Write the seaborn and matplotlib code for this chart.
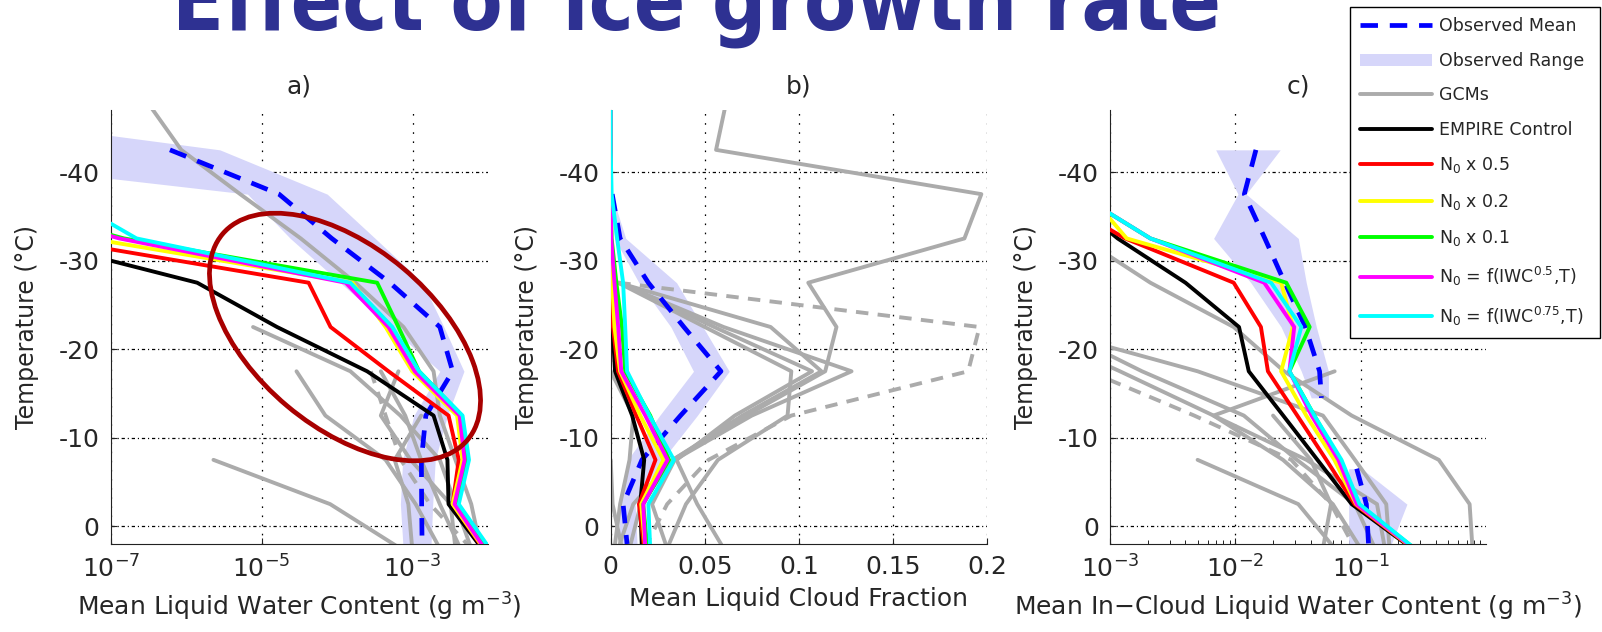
import numpy as np
import matplotlib
matplotlib.use("Agg")
import matplotlib.pyplot as plt
import seaborn as sns
from matplotlib import ticker, transforms
from matplotlib.lines import Line2D
from matplotlib.patches import Patch, Ellipse

sns.set_theme(style="white")
plt.rcParams.update({
    "font.family": ["DejaVu Sans"],
    "axes.unicode_minus": False,
    "mathtext.fontset": "dejavusans",
    "axes.edgecolor": "black",
    "axes.linewidth": 0.8,
})

# ---------------- colours ----------------
OBS_BLUE = "#0000FF"
OBS_FILL = "#D6D6FA"
GCM_GRAY = "#ABABAB"
MODEL_COLORS = ["#000000", "#FF0000", "#FFFF00", "#00FF00", "#FF00FF", "#00FFFF"]
MODEL_NAMES = ["EMPIRE Control", r"N$_0$ x 0.5", r"N$_0$ x 0.2", r"N$_0$ x 0.1",
               r"N$_0$ = f(IWC$^{0.5}$,T)", r"N$_0$ = f(IWC$^{0.75}$,T)"]

# ---------------- panel a: mean liquid water content (g m-3) ----------------
temp_a_model = [-37.5, -32.5, -27.5, -22.5, -17.5, -12.5, -7.5, -2.5, 2.5]
lwc_control = [1e-10, 7e-9, 1.4e-6, 1.6e-5, 2.5e-4, 1.9e-3, 2.9e-3, 3.0e-3, 8.3e-3]
lwc_n0_05 = [1e-10, 1.4e-8, 4.2e-5, 8.2e-5, 4.8e-4, 3.0e-3, 4.1e-3, 3.4e-3, 8.6e-3]
lwc_n0_02 = [1e-9, 5.3e-8, 1.6e-4, 4.4e-4, 9.9e-4, 3.9e-3, 4.6e-3, 3.4e-3, 8.8e-3]
lwc_n0_01 = [1e-9, 1.5e-7, 3.4e-4, 6.5e-4, 1.22e-3, 4.5e-3, 5.4e-3, 3.9e-3, 9.8e-3]
lwc_iwc05 = [1e-9, 1.3e-7, 1.3e-4, 4.8e-4, 1.07e-3, 4.2e-3, 4.9e-3, 3.6e-3, 9.0e-3]
lwc_iwc075 = [2.1e-8, 2.2e-7, 1.5e-4, 5.4e-4, 1.22e-3, 4.6e-3, 5.6e-3, 4.1e-3, 1.05e-2]

temp_a_obs = [-47.5, -42.5, -37.5, -32.5, -27.5, -22.5, -17.5, -12.5, -7.5, -2.5, 2.5]
lwc_obs_lo = [1e-12, 5e-11, 6.5e-6, 2.4e-5, 1.1e-4, 5.1e-4, 2.3e-3, 1.04e-3, 7.4e-4, 6.9e-4, 7.5e-4]
lwc_obs_hi = [1e-10, 2.8e-6, 7.4e-5, 3.2e-4, 1.36e-3, 2.6e-3, 4.8e-3, 2.9e-3, 2.0e-3, 1.85e-3, 1.75e-3]
temp_a_obs_mean = [-42.5, -37.5, -32.5, -27.5, -22.5, -17.5, -12.5, -7.5, -2.5, 2.5]
lwc_obs_mean = [6.1e-7, 1.7e-5, 8.5e-5, 5.0e-4, 2.3e-3, 3.4e-3, 1.5e-3, 1.31e-3, 1.32e-3, 1.34e-3]

gcm_a_temp = [
    [-47.5, -42.5, -37.5, -32.5, -27.5, -22.5, -17.5, -12.5, -7.5, -2.5, 2.5],
    [-22.5, -17.5, -12.5, -7.5, -2.5, 2.5],
    [-17.5, -12.5, -7.5, -2.5, 2.5],
    [-7.5, -2.5, 2.5],
    [-17.5, -12.5, -7.5, -2.5, 2.5],
    [-17.5, -12.5, -7.5, -2.5, 2.5],
    [-17.5, -12.5, -7.5, -2.5, 2.5],
    [-12.5, -7.5, -2.5, 2.5],
]
gcm_a_lwc = [
    [3.3e-7, 8.6e-7, 5.2e-6, 3.3e-5, 1.75e-4, 7.6e-4, 1.9e-3, 2.3e-3, 3.7e-3, 6e-3, 8e-3],
    [7.7e-6, 1.5e-4, 6.9e-4, 2.3e-3, 3.7e-3, 6e-3],
    [2.9e-5, 7e-5, 4.4e-4, 1.1e-3, 2.3e-3],
    [2.3e-6, 8.1e-5, 6.9e-4],
    [3.8e-4, 8.0e-4, 1.3e-3, 2.3e-3, 4.3e-3],
    [6.5e-4, 3.8e-4, 9.4e-4, 3.2e-3, 3.7e-3],
    [2.8e-4, 4.4e-4, 7e-4, 1.7e-3, 6e-3],
    [1.3e-3, 5.8e-4, 8.8e-4, 9.9e-4],
]
gcm_a_dashed = [False, False, False, False, False, False, True, False]

# ---------------- panel b: mean liquid cloud fraction ----------------
temp_b_model = [-47.5, -42.5, -37.5, -32.5, -27.5, -22.5, -17.5, -12.5, -7.5, -2.5, 2.5]
lcf_control = [0, 0, 0, 0, 0.0005, 0.001, 0.0023, 0.0114, 0.0178, 0.0157, 0.0166]
lcf_n0_05 = [0, 0, 0, 0, 0.0003, 0.0012, 0.0039, 0.0136, 0.0238, 0.015, 0.0178]
lcf_n0_02 = [0, 0, 0, 0.0002, 0.0008, 0.002, 0.005, 0.0157, 0.028, 0.0162, 0.0184]
lcf_n0_01 = [0, 0, 0, 0.0005, 0.003, 0.006, 0.0077, 0.021, 0.031, 0.0173, 0.0195]
lcf_iwc05 = [0, 0, 0, 0.0003, 0.002, 0.004, 0.0056, 0.0184, 0.0302, 0.0173, 0.0184]
lcf_iwc075 = [0, 0, 0.0005, 0.0034, 0.0066, 0.0077, 0.0087, 0.0206, 0.0336, 0.020, 0.021]

temp_b_obs = [-37.5, -32.5, -27.5, -22.5, -17.5, -12.5, -7.5, -2.5, 2.0]
lcf_obs_mean = [0.0008, 0.005, 0.020, 0.0389, 0.0586, 0.0371, 0.0166, 0.0066, 0.0087]
lcf_obs_lo = [0.0, 0.002, 0.015, 0.032, 0.044, 0.026, 0.009, 0.004, 0.005]
lcf_obs_hi = [0.0005, 0.008, 0.035, 0.049, 0.063, 0.046, 0.0275, 0.013, 0.014]

gcm_b_temp = [
    [-47.5, -42.5, -37.5, -32.5, -27.5, -22.5, -17.5, -12.5, -7.5, -2.5, 2.5],
    [-27.5, -22.5, -17.5, -12.5, -7.5, -2.5, 2.5],
    [-27.5, -22.5, -17.5, -12.5, -7.5, -2.5, 2.5],
    [-27.5, -22.5, -17.5, -12.5, -7.5, -2.5, 2.5],
    [-27.5, -22.5, -17.5, -12.5, -7.5, -2.5, 2.5],
    [-27.5, -22.5, -17.5, -12.5, -7.5, -2.5, 2.5],
    [-17.5, -12.5, -7.5, -2.5, 2.5],
    [-7.5, -2.5, 2.5],
]
gcm_b_lcf = [
    [0.061, 0.056, 0.197, 0.188, 0.105, 0.120, 0.114, 0.072, 0.033, 0.016, 0.010],
    [0.004, 0.196, 0.190, 0.096, 0.052, 0.030, 0.018],
    [0.004, 0.085, 0.112, 0.070, 0.033, 0.012, 0.004],
    [0.005, 0.055, 0.107, 0.066, 0.035, 0.046, 0.060],
    [0.004, 0.060, 0.128, 0.075, 0.034, 0.022, 0.030],
    [0.004, 0.050, 0.096, 0.094, 0.057, 0.040, 0.030],
    [0.0, 0.012, 0.010, 0.005, 0.002],
    [0.0, 0.001, 0.006],
]
gcm_b_dashed = [False, True, False, False, False, False, False, False]

# ---------------- panel c: mean in-cloud liquid water content (g m-3) ----------------
temp_c_model = [-37.5, -32.5, -27.5, -22.5, -17.5, -12.5, -7.5, -2.5, 2.5]
icl_control = [4.3e-4, 0.00115, 0.0040, 0.0107, 0.0128, 0.0241, 0.0452, 0.0848, 0.257]
icl_n0_05 = [3.3e-4, 0.00132, 0.0097, 0.0160, 0.0182, 0.0312, 0.0532, 0.0895, 0.26]
icl_n0_02 = [6.8e-4, 0.00136, 0.0232, 0.0288, 0.0232, 0.0368, 0.0617, 0.092, 0.262]
icl_n0_01 = [5.6e-4, 0.0021, 0.0255, 0.0392, 0.0270, 0.0427, 0.068, 0.095, 0.268]
icl_iwc05 = [5.6e-4, 0.0021, 0.0170, 0.0295, 0.0270, 0.0406, 0.0663, 0.093, 0.265]
icl_iwc075 = [5.6e-4, 0.0021, 0.0193, 0.0336, 0.0270, 0.0427, 0.0703, 0.098, 0.27]

temp_c_obs_upper = [-42.5, -37.5, -32.5, -27.5, -22.5, -17.5, -14.5]
icl_obs_mean_upper = [0.0146, 0.0118, 0.0172, 0.0248, 0.0362, 0.047, 0.0486]
icl_obs_lo_upper = [0.00697, 0.0105, 0.00671, 0.0133, 0.0232, 0.0336, 0.0403]
icl_obs_hi_upper = [0.0228, 0.0122, 0.0318, 0.0368, 0.0443, 0.0553, 0.0553]
temp_c_obs_lower = [-6.5, -2.5, 2.5]
icl_obs_mean_lower = [0.093, 0.111, 0.116]
icl_obs_lo_lower = [0.0802, 0.0802, 0.0802]
icl_obs_hi_lower = [0.102, 0.234, 0.17]

gcm_c_temp = [
    [-32.5, -27.5, -22.5, -17.5, -12.5, -7.5, -2.5, 2.5],
    [-22.5, -17.5, -12.5, -7.5, -2.5, 2.5],
    [-22.5, -17.5, -12.5, -7.5, -2.5, 2.5],
    [-17.5, -12.5, -7.5, -2.5, 2.5],
    [-22.5, -17.5, -12.5, -7.5, -2.5, 2.5],
    [-17.5, -12.5, -7.5, -2.5, 2.5],
    [-7.5, -2.5, 2.5],
    [-12.5, -7.5, -2.5, 2.5],
]
gcm_c_icl = [
    [6e-4, 0.0021, 0.0097, 0.0245, 0.0848, 0.42, 0.74, 0.78],
    [2.6e-4, 0.005, 0.05, 0.09, 0.16, 0.17],
    [3.5e-4, 0.0018, 0.0117, 0.031, 0.09, 0.13],
    [6.8e-4, 0.0047, 0.028, 0.058, 0.09],
    [2e-4, 0.0012, 0.0067, 0.037, 0.135, 0.156],
    [0.062, 0.0067, 0.024, 0.06, 0.1],
    [0.005, 0.0318, 0.062],
    [0.02, 0.04, 0.058, 0.05],
]
gcm_c_dashed = [False, False, False, True, False, False, False, False]

# ---------------- figure ----------------
W, H = 1602, 632
fig = plt.figure(figsize=(W / 100, H / 100), dpi=100)
fig.patch.set_facecolor("white")


def box(left, top, right, bottom):
    return [left / W, 1 - bottom / H, (right - left) / W, (bottom - top) / H]


ax_a = fig.add_axes(box(110.7, 110, 488, 544))
ax_b = fig.add_axes(box(610.7, 110, 987, 544))
ax_c = fig.add_axes(box(1110, 110, 1486, 544))
ax_a.set_xscale("log")
ax_c.set_xscale("log")

OBS_DASH = (0, (3.7, 2.5))
GCM_DASH = (0, (3.2, 2.4))
LW = 2.8


def draw_line(ax, x, t, color, lw=LW, ls="-", z=2):
    sns.lineplot(x=x, y=t, sort=False, estimator=None, color=color, lw=lw,
                 linestyle=ls, ax=ax, legend=False, zorder=z)


def draw_panel(ax, fills, means, gcm_t, gcm_x, gcm_dash, model_t, models):
    for t, lo, hi in fills:
        ax.fill_betweenx(t, lo, hi, color=OBS_FILL, lw=0, zorder=1)
    for t, x, d in zip(gcm_t, gcm_x, gcm_dash):
        draw_line(ax, x, t, GCM_GRAY, ls=GCM_DASH if d else "-", z=2)
    for t, x in means:
        draw_line(ax, x, t, OBS_BLUE, lw=3.4, ls=OBS_DASH, z=3)
    for x, c in zip(models, MODEL_COLORS):
        draw_line(ax, x, model_t, c, z=4)


draw_panel(ax_a, [(temp_a_obs, lwc_obs_lo, lwc_obs_hi)],
           [(temp_a_obs_mean, lwc_obs_mean)],
           gcm_a_temp, gcm_a_lwc, gcm_a_dashed, temp_a_model,
           [lwc_control, lwc_n0_05, lwc_n0_02, lwc_n0_01, lwc_iwc05, lwc_iwc075])
draw_panel(ax_b, [(temp_b_obs, lcf_obs_lo, lcf_obs_hi)],
           [(temp_b_obs, lcf_obs_mean)],
           gcm_b_temp, gcm_b_lcf, gcm_b_dashed, temp_b_model,
           [lcf_control, lcf_n0_05, lcf_n0_02, lcf_n0_01, lcf_iwc05, lcf_iwc075])
draw_panel(ax_c, [(temp_c_obs_upper, icl_obs_lo_upper, icl_obs_hi_upper),
                  (temp_c_obs_lower, icl_obs_lo_lower, icl_obs_hi_lower)],
           [(temp_c_obs_upper, icl_obs_mean_upper),
            (temp_c_obs_lower, icl_obs_mean_lower)],
           gcm_c_temp, gcm_c_icl, gcm_c_dashed, temp_c_model,
           [icl_control, icl_n0_05, icl_n0_02, icl_n0_01, icl_iwc05, icl_iwc075])

# ---------------- axes styling ----------------
ax_a.set_xlim(1e-7, 1e-2)
ax_b.set_xlim(0, 0.2)
ax_c.set_xlim(1e-3, 1)

ax_a.xaxis.set_major_locator(ticker.FixedLocator([1e-7, 1e-5, 1e-3]))
ax_a.xaxis.set_major_formatter(ticker.LogFormatterSciNotation())
ax_a.xaxis.set_minor_locator(ticker.NullLocator())
ax_b.xaxis.set_major_locator(ticker.FixedLocator([0, 0.05, 0.1, 0.15, 0.2]))
ax_b.xaxis.set_major_formatter(ticker.FuncFormatter(lambda v, p: f"{v:g}"))
ax_c.xaxis.set_major_locator(ticker.FixedLocator([1e-3, 1e-2, 1e-1]))
ax_c.xaxis.set_major_formatter(ticker.LogFormatterSciNotation())
ax_c.xaxis.set_minor_locator(ticker.LogLocator(base=10, subs=np.arange(2, 10)))
ax_c.xaxis.set_minor_formatter(ticker.NullFormatter())

xlabels = ["Mean Liquid Water Content (g m$^{-3}$)", "Mean Liquid Cloud Fraction",
           "Mean In\u2212Cloud Liquid Water Content (g m$^{-3}$)"]
for ax, title, xl in zip([ax_a, ax_b, ax_c], ["a)", "b)", "c)"], xlabels):
    ax.set_ylim(2, -47)
    ax.yaxis.set_major_locator(ticker.FixedLocator([-40, -30, -20, -10, 0]))
    ax.yaxis.set_minor_locator(ticker.NullLocator())
    ax.set_axisbelow(True)
    ax.xaxis.grid(True, which="major", color="black", lw=0.9, linestyle=(0, (1.3, 6.0)))
    ax.yaxis.grid(True, which="major", color="black", lw=0.9,
                  linestyle=(0, (2.6, 2.3, 0.9, 2.3)))
    ax.yaxis.grid(False, which="minor")
    ax.xaxis.grid(False, which="minor")
    sns.despine(ax=ax)
    ax.spines["left"].set_color("#222222")
    ax.spines["bottom"].set_color("#222222")
    ax.tick_params(which="major", direction="in", length=4, width=0.8, labelsize=18,
                   pad=8, left=True, bottom=True, top=False, right=False, color="#222222")
    ax.tick_params(which="minor", direction="in", length=3, width=0.7,
                   bottom=True, top=False, color="#222222")
    ax.set_title(title, fontsize=18, pad=12)
    ax.set_xlabel(xl, fontsize=18, labelpad=6)
    ax.set_ylabel("Temperature (\u00b0C)", fontsize=17, labelpad=14)
    ax.set_facecolor("white")

# ---------------- legend ----------------
handles = [
    Line2D([], [], color=OBS_BLUE, lw=3.4, linestyle=OBS_DASH),
    Patch(facecolor=OBS_FILL, edgecolor="none"),
    Line2D([], [], color=GCM_GRAY, lw=LW),
] + [Line2D([], [], color=c, lw=LW) for c in MODEL_COLORS]
labels = ["Observed Mean", "Observed Range", "GCMs"] + MODEL_NAMES
leg = fig.legend(handles, labels, loc="upper left",
                 bbox_to_anchor=(1350 / W, 1 - 7 / H, 250 / W, 0),
                 bbox_transform=fig.transFigure, mode="expand",
                 borderaxespad=0, frameon=True, fancybox=False, framealpha=1,
                 edgecolor="black", fontsize=12.5, handlelength=4.1,
                 handletextpad=0.4, labelspacing=0.95, borderpad=0.6)
leg.get_frame().set_linewidth(1.0)

# ---------------- slide heading and highlight ----------------
fig.text(696 / W, 1 - 30 / H, "Effect of ice growth rate", ha="center", va="baseline",
         fontsize=61, fontweight="bold", fontstretch="condensed", color="#2E3192",
         family="DejaVu Sans")

pix = transforms.Affine2D().scale(1 / W, 1 / H) + fig.transFigure
fig.add_artist(Ellipse((345, H - 337), 320, 180, angle=-40, transform=pix, fill=False,
                       edgecolor="#A80000", lw=3.4, zorder=10))

fig.savefig("out.png", dpi=100, facecolor="white")
